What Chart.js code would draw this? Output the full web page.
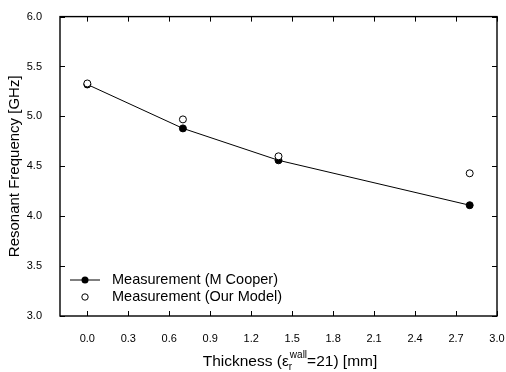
<!DOCTYPE html>
<html>
<head>
<meta charset="utf-8">
<script src="https://cdn.jsdelivr.net/npm/chart.js@4.4.1/dist/chart.umd.min.js"></script>
<style>
html,body{margin:0;padding:0;background:#fff;}
#wrap{width:506px;height:372px;position:relative;}
</style>
</head>
<body>
<div id="wrap"><canvas id="c" width="506" height="372"></canvas></div>
<script>
// ---- data ----
const thickness = [0.0, 0.7, 1.4, 2.8];
const cooperFreq = [5.32, 4.88, 4.56, 4.11];
const modelFreq = [5.33, 4.97, 4.60, 4.43];
const xTickValues = [0.0, 0.3, 0.6, 0.9, 1.2, 1.5, 1.8, 2.1, 2.4, 2.7, 3.0];
const xTickLabels = ['0.0', '0.3', '0.6', '0.9', '1.2', '1.5', '1.8', '2.1', '2.4', '2.7', '3.0'];
const yTickValues = [3.0, 3.5, 4.0, 4.5, 5.0, 5.5, 6.0];
const yTickLabels = ['3.0', '3.5', '4.0', '4.5', '5.0', '5.5', '6.0'];
const seriesNames = ['Measurement (M Cooper)', 'Measurement (Our Model)'];
const yTitle = 'Resonant Frequency [GHz]';

const FONT = '"Liberation Sans", Arial, sans-serif';

const framePlugin = {
  id: 'frame',
  afterDraw(chart) {
    const ctx = chart.ctx;
    const a = chart.chartArea;
    const xs = chart.scales.x, ys = chart.scales.y;
    ctx.save();
    ctx.strokeStyle = '#000';
    ctx.lineWidth = 1.4;
    ctx.strokeRect(a.left, a.top, a.right - a.left, a.bottom - a.top);
    ctx.lineWidth = 1;
    const tl = 5;
    xTickValues.forEach(v => {
      const px = Math.round(xs.getPixelForValue(v)) + 0.5;
      ctx.beginPath();
      ctx.moveTo(px, a.bottom); ctx.lineTo(px, a.bottom - tl);
      ctx.moveTo(px, a.top); ctx.lineTo(px, a.top + tl);
      ctx.stroke();
    });
    yTickValues.forEach(v => {
      const py = Math.round(ys.getPixelForValue(v)) + 0.5;
      ctx.beginPath();
      ctx.moveTo(a.left, py); ctx.lineTo(a.left + tl, py);
      ctx.moveTo(a.right, py); ctx.lineTo(a.right - tl, py);
      ctx.stroke();
    });

    // legend
    const lx = a.left + 10;
    const ly1 = 280, ly2 = 297;
    ctx.beginPath();
    ctx.moveTo(lx, ly1); ctx.lineTo(lx + 30, ly1);
    ctx.stroke();
    ctx.fillStyle = '#000';
    ctx.beginPath(); ctx.arc(lx + 15, ly1, 3.5, 0, Math.PI * 2); ctx.fill();
    ctx.fillStyle = '#fff';
    ctx.beginPath(); ctx.arc(lx + 15, ly2, 3.2, 0, Math.PI * 2); ctx.fill(); ctx.stroke();
    ctx.fillStyle = '#000';
    ctx.font = '14.5px ' + FONT;
    ctx.textBaseline = 'middle';
    ctx.textAlign = 'left';
    ctx.fillText(seriesNames[0], lx + 42, ly1);
    ctx.fillText(seriesNames[1], lx + 42, ly2);

    // y title
    ctx.save();
    ctx.translate(15, (a.top + a.bottom) / 2);
    ctx.rotate(-Math.PI / 2);
    ctx.textAlign = 'center';
    ctx.font = '15px ' + FONT;
    ctx.fillText(yTitle, 0, 0);
    ctx.restore();

    // x title with sub/superscript
    const big = 15.5, small = 10;
    ctx.textBaseline = 'alphabetic';
    ctx.font = big + 'px ' + FONT;
    const t0 = 'Thickness (\u03B5', t3 = '=21) [mm]';
    const w0 = ctx.measureText(t0).width, w3 = ctx.measureText(t3).width;
    ctx.font = small + 'px ' + FONT;
    const w1 = ctx.measureText('r').width, w2 = ctx.measureText('wall').width;
    const total = w0 + Math.max(w1, w2) + 1 + w3;
    let x = 290 - total / 2;
    const y = 366;
    ctx.textAlign = 'left';
    ctx.font = big + 'px ' + FONT; ctx.fillText(t0, x, y); x += w0;
    ctx.font = small + 'px ' + FONT; ctx.fillText('r', x, y + 4);
    ctx.fillText('wall', x + 1, y - 8); x += Math.max(w1, w2) + 1;
    ctx.font = big + 'px ' + FONT; ctx.fillText(t3, x, y);
    ctx.restore();
  }
};

new Chart(document.getElementById('c'), {
  type: 'scatter',
  data: {
    datasets: [
      {
        label: seriesNames[0],
        data: thickness.map((x, i) => ({x, y: cooperFreq[i]})),
        showLine: true,
        borderColor: '#000',
        borderWidth: 1,
        backgroundColor: '#000',
        pointBackgroundColor: '#000',
        pointBorderColor: '#000',
        pointRadius: 3.5,
        tension: 0,
        order: 2
      },
      {
        label: seriesNames[1],
        data: thickness.map((x, i) => ({x, y: modelFreq[i]})),
        showLine: false,
        pointBackgroundColor: '#fff',
        pointBorderColor: '#000',
        pointBorderWidth: 1,
        pointRadius: 3.5,
        order: 1
      }
    ]
  },
  options: {
    responsive: false,
    animation: false,
    events: [],
    layout: {padding: {left: 0, right: 0, top: 15, bottom: 0}},
    plugins: {legend: {display: false}, tooltip: {enabled: false}},
    scales: {
      x: {
        type: 'linear', min: -0.2, max: 3.0,
        grid: {display: false}, border: {display: false},
        afterBuildTicks: s => { s.ticks = xTickValues.map(v => ({value: v})); },
        afterFit: s => { s.height = 56; s.paddingRight = 9; s.paddingLeft = 0; },
        ticks: {
          color: '#000', font: {family: FONT, size: 11}, padding: 8, maxRotation: 0, autoSkip: false,
          callback: (v) => { const i = xTickValues.findIndex(t => Math.abs(t - v) < 1e-6); return i >= 0 ? xTickLabels[i] : ''; }
        }
      },
      y: {
        type: 'linear', min: 3.0, max: 6.0,
        grid: {display: false}, border: {display: false},
        afterBuildTicks: s => { s.ticks = yTickValues.map(v => ({value: v})); },
        afterFit: s => { s.width = 60; },
        ticks: {
          color: '#000', font: {family: FONT, size: 11}, padding: 10, autoSkip: false,
          callback: (v) => { const i = yTickValues.findIndex(t => Math.abs(t - v) < 1e-6); return i >= 0 ? yTickLabels[i] : ''; }
        }
      }
    }
  },
  plugins: [framePlugin]
});
</script>
</body>
</html>
